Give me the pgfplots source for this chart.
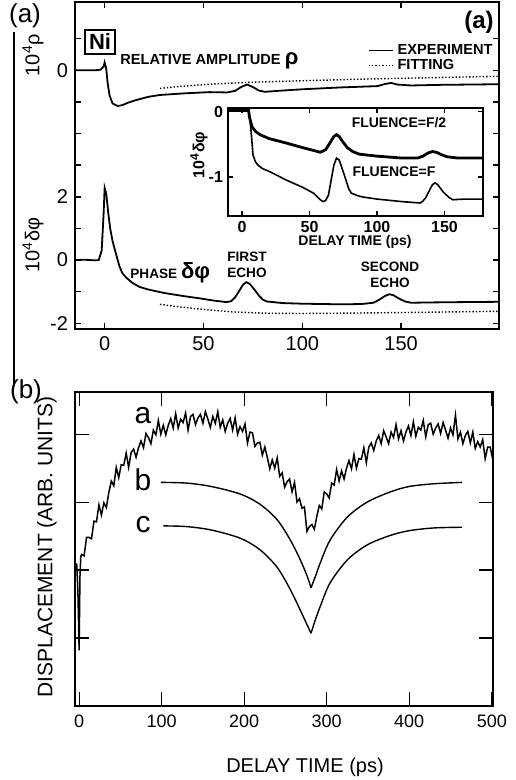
\documentclass[border=0pt]{standalone}
\usepackage{pgfplots}
\pgfplotsset{compat=1.18}
\usepackage{fontspec}
\setmainfont{Liberation Sans}

% upper panel, main curves (y in units of the phase axis; rho zero sits at 6)
\pgfplotstableread{
x y
-15 6.0
-5 6.0
-2 6.02
-0.5 6.12
0 6.25
0.8 6.05
1.5 5.6
2.5 5.2
4 4.95
6.6 4.87
9 4.9
12 4.98
16 5.06
22 5.16
28 5.22
40 5.27
53 5.31
62 5.30
66 5.35
69 5.47
72 5.55
75 5.47
78 5.36
81 5.32
90 5.36
100 5.40
120 5.46
138 5.50
142 5.57
145 5.60
148 5.55
155 5.52
170 5.54
185 5.55
199.5 5.56
}\rhoexp
\pgfplotstableread{
x y
28 5.43
40 5.50
53 5.56
73 5.62
100 5.67
130 5.72
160 5.76
199.5 5.81
}\rhofit
\pgfplotstableread{
x y
-15 0.0
-10 0.01
-5 -0.01
-3 0.0
-1.5 0.3
-0.5 1.5
0 2.28
0.8 2.1
1.8 1.5
2.8 1.0
4 0.6
5.5 0.25
7.5 -0.2
9 -0.42
11 -0.56
14 -0.72
17.7 -0.85
22 -0.93
30 -1.04
40 -1.14
48 -1.21
55 -1.28
61.6 -1.33
64 -1.30
66 -1.18
68 -0.98
70 -0.78
71.7 -0.70
73.5 -0.76
76 -0.95
78 -1.12
80 -1.25
82 -1.31
90 -1.36
100 -1.38
110 -1.39
120 -1.40
130 -1.39
136 -1.35
139 -1.25
142 -1.13
144 -1.08
146 -1.11
149 -1.22
152 -1.31
155 -1.35
165 -1.34
180 -1.33
199.5 -1.32
}\phiexp
\pgfplotstableread{
x y
28 -1.40
35 -1.46
45 -1.53
55 -1.59
65 -1.64
81 -1.68
100 -1.69
120 -1.68
150 -1.66
175 -1.64
199.5 -1.62
}\phifit

% inset
\pgfplotstableread{
x y
-10.4 0.02
3 0.02
4 0.1
4.6 0.06
5.5 -0.08
7.4 -0.23
10 -0.3
13.3 -0.35
20 -0.41
33 -0.48
45 -0.55
58 -0.62
62 -0.58
65 -0.48
68 -0.38
70 -0.35
72 -0.38
75 -0.47
78 -0.55
82 -0.61
87 -0.65
100 -0.68
119 -0.71
130 -0.71
134 -0.68
138 -0.63
141 -0.61
144 -0.62
148 -0.66
152 -0.69
160 -0.71
178.5 -0.71
}\halfF
\pgfplotstableread{
x y
-10.4 0.02
3 0.02
4 0.1
4.8 0.05
6 -0.15
6.7 -0.3
7.5 -0.5
8.1 -0.66
10 -0.77
11.9 -0.82
15 -0.87
20.7 -0.92
33 -1.05
45 -1.16
53 -1.25
58 -1.35
60 -1.38
62 -1.36
64 -1.28
66 -1.05
68 -0.82
70 -0.71
72 -0.74
74 -0.86
77 -1.05
79 -1.18
81 -1.25
86 -1.29
90 -1.31
100 -1.34
119 -1.38
132 -1.40
134 -1.37
136 -1.32
139 -1.20
141 -1.12
143 -1.09
145 -1.12
149 -1.23
153 -1.31
156 -1.35
165 -1.34
178.5 -1.34
}\fullF

% lower panel, noisy trace a
\pgfplotstableread{
x y
-3 2.1
-1.5 1.7
0 0.82
1 1.9
2 2.2
3 2.23
6 2.21
9 2.48
12 2.48
15 2.46
18 2.72
21 2.71
24 2.96
27 2.81
30 2.99
33 2.92
36 3.14
39 3.31
42 3.24
45 3.51
48 3.36
51 3.55
54 3.54
57 3.72
60 3.51
63 3.73
66 3.78
69 3.66
72 3.80
75 3.90
78 3.80
81 4.01
84 3.95
87 3.86
90 4.06
93 3.99
96 4.20
99 4.00
102 4.13
105 3.99
108 4.13
111 4.23
114 4.09
117 4.30
120 4.09
123 4.22
126 4.17
129 4.31
132 4.06
135 4.26
138 4.29
141 4.14
144 4.24
147 4.29
150 4.16
153 4.33
156 4.22
159 4.10
162 4.26
165 4.16
168 4.33
171 4.10
174 4.21
177 4.04
180 4.16
183 4.23
186 4.06
189 4.24
192 4.00
195 4.11
198 4.04
201 4.15
204 3.87
207 4.03
210 4.02
213 3.82
216 3.87
219 3.88
222 3.69
225 3.81
228 3.66
231 3.49
234 3.62
237 3.50
240 3.65
243 3.38
246 3.43
249 3.22
252 3.30
255 3.34
258 3.15
261 3.29
264 3.00
267 3.05
270 2.91
273 2.93
276 2.57
279 2.64
282 2.67
285 2.60
288 2.79
291 2.95
294 2.90
297 3.15
300 3.12
303 3.06
306 3.28
309 3.25
312 3.48
315 3.31
318 3.46
321 3.34
324 3.50
327 3.61
330 3.49
333 3.70
336 3.50
339 3.64
342 3.63
345 3.80
348 3.58
351 3.81
354 3.87
357 3.76
360 3.90
363 3.98
366 3.86
369 4.05
372 3.96
375 3.86
378 4.03
381 3.95
384 4.14
387 3.93
390 4.05
393 3.90
396 4.03
399 4.12
402 3.98
405 4.18
408 3.97
411 4.10
414 4.06
417 4.20
420 3.96
423 4.14
426 4.16
429 4.00
432 4.09
435 4.15
438 4.01
441 4.17
444 4.06
447 3.94
450 4.09
453 3.99
456 4.28
459 3.93
462 4.03
465 3.86
468 3.98
471 4.04
474 3.87
477 4.03
480 3.79
483 3.89
486 3.81
489 3.92
492 3.64
495 3.81
498 3.81
501 3.64
}\curvea

\begin{document}
\begin{tikzpicture}
\path[use as bounding box] (0,0) rectangle (257.5pt,-390pt);

% ---------- panel (a)
\begin{axis}[
    at={(37.5pt,-164.5pt)}, anchor=south west,
    scale only axis, width=212pt, height=163.5pt,
    xmin=-15, xmax=199.5, ymin=-2.18, ymax=8.16,
    xtick={0,50,100,150},
    ytick={-2,-1,0,1,2,3,4,5,6,7},
    yticklabels={-2,,0,,2,,,,0,},
    /pgf/number format/assume math mode=true,
    ticklabel style={font=\fontsize{10}{10}\selectfont},
    tick style={black, line width=0.7pt},
    major tick length=3pt,
    axis line style={line width=0.8pt},
    legend style={draw=none, fill=none, at={(0.995,0.885)}, anchor=north east,
        font=\bfseries\fontsize{7.3}{7.3}\selectfont, inner sep=0pt, row sep=-3pt,
        cells={anchor=west}},
    legend image code/.code={\draw[#1] (0pt,0pt) -- (12pt,0pt);},
    every axis plot/.append style={black},
]
\addplot[line width=0.9pt] table {\rhoexp};
\addlegendentry{EXPERIMENT}
\addplot[line width=0.7pt, densely dotted] table {\rhofit};
\addlegendentry{FITTING}
\addplot[line width=0.9pt, forget plot] table {\phiexp};
\addplot[line width=0.7pt, densely dotted, forget plot] table {\phifit};
\end{axis}

% ---------- inset
\begin{axis}[
    at={(114pt,-108pt)}, anchor=south west,
    scale only axis, width=127.5pt, height=54pt,
    xmin=-10.4, xmax=178.5, ymin=-1.6, ymax=0.06,
    xtick={0,50,100,150},
    ytick={-1,0}, yticklabels={-1,0},
    /pgf/number format/assume math mode=true,
    ticklabel style={font=\bfseries\fontsize{8}{8}\selectfont},
    xticklabel style={yshift=1pt},
    yticklabel style={xshift=1pt},
    tick style={black, line width=0.6pt},
    major tick length=2.5pt,
    axis line style={line width=0.8pt},
    axis background/.style={fill=white},
]
\addplot[black, line width=1.4pt] table {\halfF};
\addplot[black, line width=0.8pt] table {\fullF};
\end{axis}

% ---------- panel (b)
\begin{axis}[
    at={(37.5pt,-353pt)}, anchor=south west,
    scale only axis, width=209pt, height=157pt,
    xmin=-5, xmax=501.5, ymin=0, ymax=4.62,
    xtick={0,100,200,300,400,500},
    ytick={1,2,3,4}, yticklabels={},
    /pgf/number format/assume math mode=true,
    ticklabel style={font=\fontsize{9}{9}\selectfont},
    xticklabel style={yshift=-1pt},
    tick style={black, line width=0.6pt},
    major tick length=7pt,
    axis line style={line width=0.7pt},
]
\addplot[black, line width=0.75pt] table {\curvea};
% curve b, two branches meeting in a cusp
\addplot[black, line width=0.7pt, smooth] coordinates {
(99,3.29) (130,3.28) (160,3.23) (195,3.12) (219,2.97) (240,2.74) (256,2.44) (268,2.15) (276,1.92) (281,1.74)};
\addplot[black, line width=0.7pt, smooth] coordinates {
(281,1.74) (287,1.93) (292,2.10) (304,2.44) (325,2.78) (349,3.0) (377,3.15) (400,3.23) (430,3.27) (464,3.29)};
% curve c
\addplot[black, line width=0.7pt, smooth] coordinates {
(102,2.65) (130,2.64) (160,2.59) (195,2.47) (219,2.30) (240,2.04) (256,1.71) (268,1.41) (276,1.20) (281,1.07)};
\addplot[black, line width=0.7pt, smooth] coordinates {
(281,1.07) (286,1.26) (292,1.46) (304,1.81) (325,2.15) (349,2.37) (377,2.51) (400,2.58) (430,2.62) (464,2.63)};
\end{axis}

% ---------- annotations, in pixel units of the reference
\begin{scope}[x=0.5pt, y=-0.5pt]
\draw[line width=0.6pt] (14,32) -- (14,386);
\node[font=\fontsize{13}{13}\selectfont] at (25,16) {(a)};
\node[font=\fontsize{13}{13}\selectfont] at (26,392) {(b)};
\draw[line width=0.7pt] (85,30) rectangle (115,54);
\node[font=\bfseries\fontsize{11}{11}\selectfont] at (100,42) {Ni};
\node[font=\bfseries\fontsize{12}{12}\selectfont] at (479,22) {(a)};
\node[anchor=west, font=\bfseries\fontsize{7.3}{7.3}\selectfont, inner sep=0pt] at (120,61)
    {RELATIVE AMPLITUDE {\fontsize{11}{11}\selectfont ρ}};
\node[rotate=90, font=\fontsize{10}{10}\selectfont] at (33,55) {10\textsuperscript{4}ρ};
\node[rotate=90, font=\fontsize{10}{10}\selectfont] at (33,245) {10\textsuperscript{4}δφ};
\node[anchor=west, font=\bfseries\fontsize{6.8}{7}\selectfont, inner sep=0pt] at (130,273)
    {PHASE {\fontsize{11}{11}\selectfont δφ}};
\node[font=\bfseries\fontsize{6.8}{7}\selectfont, align=center] at (247,265) {FIRST\\[1pt]ECHO};
\node[font=\bfseries\fontsize{6.8}{7}\selectfont, align=center] at (390,275) {SECOND\\[1pt]ECHO};
\node[font=\bfseries\fontsize{7}{7}\selectfont] at (399,123) {FLUENCE=F/2};
\node[font=\bfseries\fontsize{7}{7}\selectfont] at (394,172) {FLUENCE=F};
\node[rotate=90, font=\bfseries\fontsize{8}{8}\selectfont] at (199,155) {10\textsuperscript{4}δφ};
\node[font=\bfseries\fontsize{7}{7}\selectfont] at (355,242) {DELAY TIME (ps)};
\node[font=\fontsize{15}{15}\selectfont] at (143,416) {a};
\node[font=\fontsize{15}{15}\selectfont] at (143,480) {b};
\node[font=\fontsize{15}{15}\selectfont] at (143,525) {c};
\node[rotate=90, font=\fontsize{10.5}{10.5}\selectfont] at (47,547) {DISPLACEMENT (ARB. UNITS)};
\node[font=\fontsize{10}{10}\selectfont] at (305,767) {DELAY TIME (ps)};
\end{scope}
\end{tikzpicture}
\end{document}
